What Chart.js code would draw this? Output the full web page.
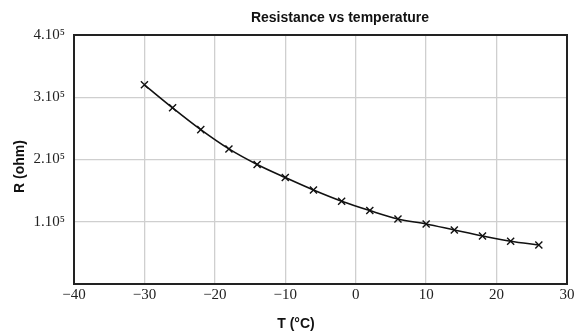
<!DOCTYPE html>
<html>
<head>
<meta charset="utf-8">
<script src="https://cdn.jsdelivr.net/npm/chart.js@4"></script>
<style>
html,body{margin:0;padding:0;background:#fff;}
#wrap{width:577px;height:332px;}
</style>
</head>
<body>
<div id="wrap"><canvas id="c" width="577" height="332"></canvas></div>
<script>
const temperatures = [-30, -26, -22, -18, -14, -10, -6, -2, 2, 6, 10, 14, 18, 22, 26];
const resistances = [320000, 283000, 248000, 217000, 192000, 171000, 151000, 133000, 118000, 104500, 96500, 86800, 77200, 68600, 62700];
const yTickLabels = {100000: '1.10⁵', 200000: '2.10⁵', 300000: '3.10⁵', 400000: '4.10⁵'};
const chartTitle = 'Resistance vs temperature';
const xTitle = 'T (°C)';
const yTitle = 'R (ohm)';

const points = temperatures.map((t, i) => ({x: t, y: resistances[i]}));

const framePlugin = {
  id: 'frame',
  afterDraw(chart) {
    const {ctx, chartArea: a} = chart;
    ctx.save();
    ctx.strokeStyle = '#222';
    ctx.lineWidth = 2;
    ctx.strokeRect(a.left, a.top, a.right - a.left, a.bottom - a.top);
    ctx.fillStyle = '#111';
    ctx.font = 'bold 14px "Liberation Sans", Arial, sans-serif';
    ctx.textAlign = 'center';
    ctx.textBaseline = 'middle';
    ctx.fillText(chartTitle, 340, 18.5);
    ctx.fillText(xTitle, 296, 324);
    ctx.translate(20, 166.5);
    ctx.rotate(-Math.PI / 2);
    ctx.fillText(yTitle, 0, 0);
    ctx.restore();
  }
};

new Chart(document.getElementById('c'), {
  type: 'scatter',
  data: {
    datasets: [{
      data: points,
      showLine: true,
      borderColor: '#111',
      borderWidth: 1.6,
      cubicInterpolationMode: 'monotone',
      pointStyle: 'crossRot',
      pointRadius: 5,
      pointBorderWidth: 1.4,
      pointBorderColor: '#111',
      pointBackgroundColor: '#111'
    }]
  },
  options: {
    responsive: false,
    animation: false,
    devicePixelRatio: 1,
    layout: {padding: {left: 0, right: 10, top: 35, bottom: 0}},
    plugins: {legend: {display: false}, tooltip: {enabled: false}, title: {display: false}},
    scales: {
      x: {
        type: 'linear', min: -40, max: 30,
        afterFit: s => { s.height = 48; },
        ticks: {
          stepSize: 10,
          padding: 2,
          color: '#222',
          font: {family: '"Liberation Serif", "Times New Roman", serif', size: 15},
          callback: v => (v < 0 ? '\u2212' + Math.abs(v) : String(v))
        },
        grid: {color: '#cfcfcf', lineWidth: 1.3, drawTicks: false},
        border: {display: false}
      },
      y: {
        type: 'linear', min: 0, max: 400000,
        afterFit: s => { s.width = 74; },
        ticks: {
          stepSize: 100000,
          padding: 9,
          color: '#222',
          font: {family: '"Liberation Serif", "Times New Roman", serif', size: 15},
          callback: v => yTickLabels[v] || ''
        },
        grid: {color: '#cfcfcf', lineWidth: 1.3, drawTicks: false},
        border: {display: false}
      }
    }
  },
  plugins: [framePlugin]
});
</script>
</body>
</html>
